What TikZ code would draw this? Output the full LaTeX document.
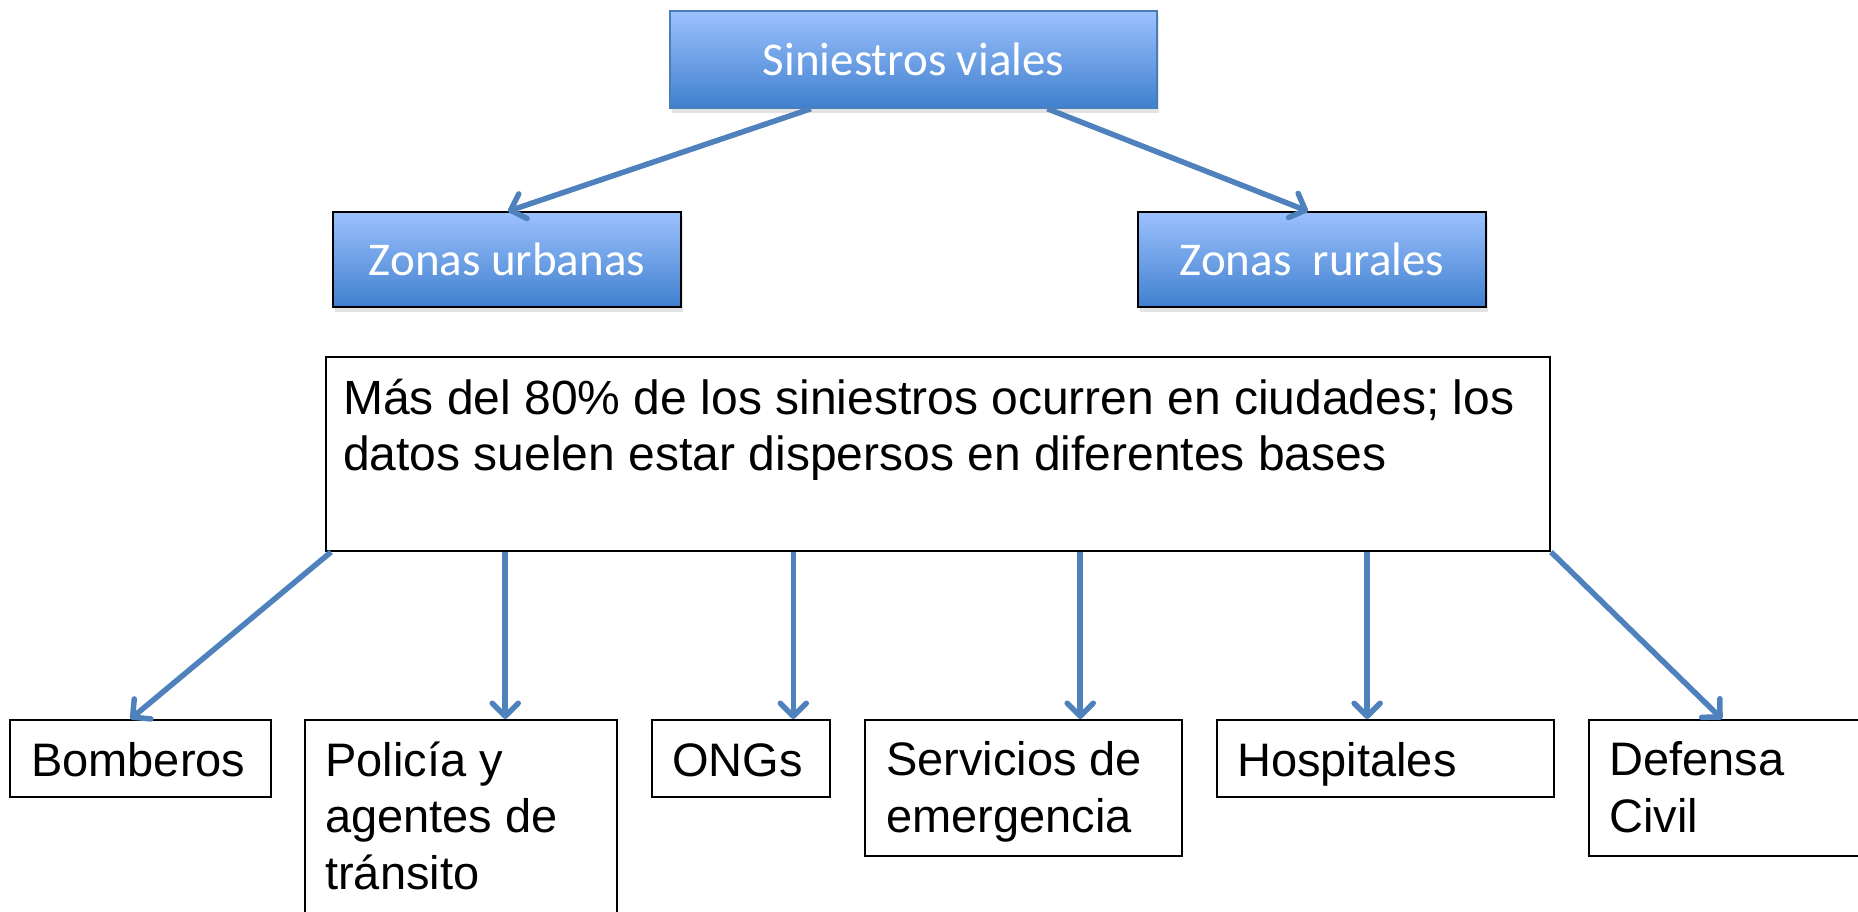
\documentclass[tikz,border=0pt]{standalone}
\usepackage{fontspec}
\setmainfont{Liberation Sans}
\newfontfamily\calib{Carlito}
\usetikzlibrary{arrows.meta,shadows,calc}
\definecolor{btop}{RGB}{156,193,254}
\definecolor{bbot}{RGB}{64,128,206}
\definecolor{arr}{RGB}{79,129,189}
\definecolor{bord}{RGB}{74,126,187}
\begin{document}
\begin{tikzpicture}[x=1pt,y=-1pt,
  bluebox/.style={draw=black, line width=1.5pt, top color=btop, bottom color=bbot,
    text=white, inner sep=0pt, font=\calib\fontsize{47}{56}\selectfont,
    drop shadow={shadow xshift=2pt, shadow yshift=-5pt, opacity=0.22}},
  plainbox/.style={draw=black, line width=2pt, fill=white, inner sep=0pt},
  txt/.style={font=\fontsize{47}{56.5}\selectfont, anchor=base west, align=left, inner sep=0pt},
  conn/.style={draw=arr, line width=5.5pt, -{Straight Barb[length=13pt,width=26pt,round]}}
]
\useasboundingbox (0,0) rectangle (1858,912);
% top level
\node[bluebox, draw=bord, minimum width=487pt, minimum height=97pt] (top) at (913.5,59.5) {Siniestros viales};
\node[bluebox, minimum width=348pt, minimum height=95pt] (urb) at (507,259.5) {Zonas urbanas};
\node[bluebox, minimum width=348pt, minimum height=95pt] (rur) at (1312,259.5) {Zonas\ \ rurales};
% big box
\node[plainbox, minimum width=1224pt, minimum height=194pt] (big) at (938,454) {};
\node[txt, font=\fontsize{48}{56}\selectfont] (bigt) at ($(big.north west)+(18,114)$)
  {Más del 80\% de los siniestros ocurren en ciudades; los\\datos suelen estar dispersos en diferentes bases};
% bottom boxes
\node[plainbox, minimum width=261pt, minimum height=77pt] (bomb) at (140.5,758.5) {};
\node[plainbox, minimum width=312pt, minimum height=210pt] (pol) at (461,825) {};
\node[plainbox, minimum width=178pt, minimum height=77pt] (ong) at (741,758.5) {};
\node[plainbox, minimum width=317pt, minimum height=136pt] (serv) at (1023.5,788) {};
\node[plainbox, minimum width=337pt, minimum height=77pt] (hosp) at (1385.5,758.5) {};
\node[plainbox, minimum width=320pt, minimum height=136pt] (def) at (1749,788) {};
\node[txt] (bombt) at ($(bomb.north west)+(22,57)$) {Bomberos};
\node[txt] (polt) at ($(pol.north west)+(21,170)$) {Policía y\\agentes de\\tránsito};
\node[txt] (ongt) at ($(ong.north west)+(21,57)$) {ONGs};
\node[txt] (servt) at ($(serv.north west)+(22,113)$) {Servicios de\\emergencia};
\node[txt] (hospt) at ($(hosp.north west)+(21,57)$) {Hospitales};
\node[txt] (deft) at ($(def.north west)+(21,113)$) {Defensa\\Civil};
% connectors
\draw[conn] ($(top.south west)!0.29!(top.south east)$) -- ($(urb.north)+(1,0)$);
\draw[conn] ($(top.south west)!0.774!(top.south east)$) -- ($(rur.north)+(-4,0)$);
\draw[conn] ($(big.south west)+(6,0)$) -- ($(bomb.north)+(-10,0)$);
\coordinate (p2) at ($(big.south west)!0.147!(big.south east)$);
\coordinate (p3) at ($(big.south west)!0.382!(big.south east)$);
\coordinate (p4) at ($(big.south west)!0.616!(big.south east)$);
\coordinate (p5) at ($(big.south west)!0.850!(big.south east)$);
\draw[conn] (p2) -- (p2 |- pol.north);
\draw[conn] (p3) -- (p3 |- ong.north);
\draw[conn] (p4) -- (p4 |- serv.north);
\draw[conn] (p5) -- (p5 |- hosp.north);
\draw[conn] (big.south east) -- ($(def.north west)+(134,0)$);
\end{tikzpicture}
\end{document}
